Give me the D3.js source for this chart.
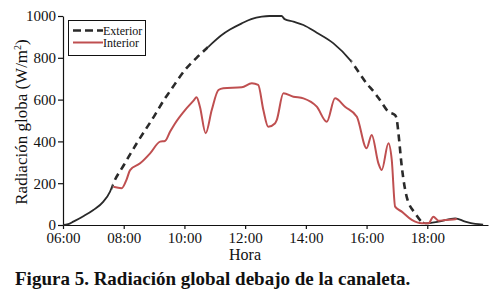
<!DOCTYPE html>
<meta charset="utf-8">
<html>
<head>
<script src="https://d3js.org/d3.v7.min.js"></script>
<style>
  body { margin: 0; background: #fff; }
  text { font-family: "Liberation Serif", "Times New Roman", serif; fill: #111; }
</style>
</head>
<body>
<script>

// hours of the day (decimal) and radiation W/m2
var extHours = [6.0, 6.17, 6.34, 6.67, 7.0, 7.33, 7.55, 7.66, 8.0, 8.43, 9.0, 9.36, 9.5, 10.02, 10.4, 10.79,
  11.23, 11.5, 11.89, 12.2, 12.55, 12.8, 13.2, 13.3, 13.59, 13.92, 14.36, 14.91, 15.46, 16.0, 16.28, 16.44,
  16.72, 16.94, 17.0, 17.05, 17.16, 17.32, 17.6, 17.93, 18.37, 18.92, 19.25, 19.58, 19.84];
var extValues = [0, 4, 16, 42, 72, 112, 160, 200, 286, 391, 520, 606, 635, 742, 800, 853,
  909, 935, 965, 985, 997, 1000, 1000, 985, 973, 957, 920, 869, 789, 678, 630, 598,
  542, 526, 500, 439, 279, 136, 56, 8, 16, 32, 16, 5, 2];

var intHours = [7.66, 7.93, 8.1, 8.21, 8.54, 8.87, 9.2, 9.36, 9.53, 9.69, 10.02, 10.3, 10.4, 10.51, 10.7, 10.9,
  11.12, 11.28, 11.89, 12.22, 12.43, 12.6, 12.76, 12.98, 13.04, 13.26, 13.59, 13.92, 14.36, 14.69, 14.96, 15.29,
  15.68, 16.0, 16.17, 16.39, 16.5, 16.72, 16.83, 16.94, 17.16, 17.49, 17.82, 18.04, 18.2, 18.37, 18.59, 18.92, 18.97];
var intValues = [183, 176, 220, 263, 295, 343, 399, 402, 447, 486, 550, 595, 611, 566, 439, 550,
  646, 654, 659, 678, 670, 550, 470, 486, 502, 630, 614, 606, 566, 494, 606, 566,
  518, 367, 431, 295, 263, 391, 311, 88, 64, 24, 8, 8, 40, 20, 24, 27, 30];

// parts of the exterior curve that are drawn dashed in the original
var dashedRanges = [[7.62, 10.78], [15.5, 17.86]];

var xTicks = [6, 8, 10, 12, 14, 16, 18];
var xTickLabels = ["06:00", "08:00", "10:00", "12:00", "14:00", "16:00", "18:00"];
var yTicks = [0, 200, 400, 600, 800, 1000];
var seriesNames = ["Exterior", "Interior"];

var width = 492, height = 304;

var svg = d3.select("body").append("svg")
  .attr("width", width)
  .attr("height", height);

var x = d3.scaleLinear().domain([6, 20]).range([63, 488]);
var y = d3.scaleLinear().domain([0, 1000]).range([225, 16]);

// axes
var xAxis = svg.append("g")
  .attr("transform", "translate(0," + y(0) + ")")
  .call(d3.axisBottom(x).tickValues(xTicks).tickSize(4).tickSizeOuter(0)
    .tickFormat(function(d, i) { return xTickLabels[i]; }));
var yAxis = svg.append("g")
  .attr("transform", "translate(" + x(6) + ",0)")
  .call(d3.axisLeft(y).tickValues(yTicks).tickSize(5).tickSizeOuter(0).tickPadding(2)
    .tickFormat(d3.format("d")));

svg.selectAll(".domain, .tick line").attr("stroke", "#111").attr("stroke-width", 1.2);
svg.selectAll(".tick text")
  .style("font-family", "'Liberation Serif', serif")
  .style("font-size", "15px")
  .attr("fill", "#111");

// axis titles
svg.append("text")
  .attr("x", 245).attr("y", 260)
  .attr("text-anchor", "middle")
  .style("font-size", "16px")
  .text("Hora");

svg.append("text")
  .attr("transform", "translate(27,122) rotate(-90)")
  .attr("text-anchor", "middle")
  .style("font-size", "17px")
  .html("Radiación globa (W/m<tspan dy='-6' font-size='10px'>2</tspan><tspan dy='6'>)</tspan>");

// clip paths for solid and dashed parts of exterior curve
var defs = svg.append("defs");
var dashClip = defs.append("clipPath").attr("id", "dashClip");
dashedRanges.forEach(function(r) {
  dashClip.append("rect").attr("x", x(r[0])).attr("y", 0)
    .attr("width", x(r[1]) - x(r[0])).attr("height", height);
});
var solidClip = defs.append("clipPath").attr("id", "solidClip");
var edges = [6].concat(d3.merge(dashedRanges)).concat([20.5]);
for (var k = 0; k < edges.length; k += 2) {
  solidClip.append("rect").attr("x", x(edges[k])).attr("y", 0)
    .attr("width", x(edges[k + 1]) - x(edges[k])).attr("height", height);
}

var line = d3.line()
  .x(function(d) { return x(d[0]); })
  .y(function(d) { return y(d[1]); })
  .curve(d3.curveMonotoneX);

var extData = extHours.map(function(h, i) { return [h, extValues[i]]; });
var intData = intHours.map(function(h, i) { return [h, intValues[i]]; });

svg.append("path")
  .datum(extData)
  .attr("d", line)
  .attr("fill", "none")
  .attr("stroke", "#2a2a2a")
  .attr("stroke-width", 1.8)
  .attr("clip-path", "url(#solidClip)");

svg.append("path")
  .datum(extData)
  .attr("d", line)
  .attr("fill", "none")
  .attr("stroke", "#2a2a2a")
  .attr("stroke-width", 2.6)
  .attr("stroke-dasharray", "7,5")
  .attr("clip-path", "url(#dashClip)");

svg.append("path")
  .datum(intData)
  .attr("d", line)
  .attr("fill", "none")
  .attr("stroke", "#bf4f50")
  .attr("stroke-width", 2);

// legend
var legend = svg.append("g");
legend.append("rect")
  .attr("x", 68.5).attr("y", 20.5)
  .attr("width", 77).attr("height", 35)
  .attr("fill", "#fff")
  .attr("stroke", "#111")
  .attr("stroke-width", 1);

var items = legend.selectAll("g.item")
  .data(seriesNames)
  .enter().append("g")
  .attr("transform", function(d, i) { return "translate(0," + (30.5 + i * 12) + ")"; });

items.append("line")
  .attr("x1", 73).attr("x2", 103)
  .attr("stroke", function(d, i) { return i == 0 ? "#2a2a2a" : "#bf4f50"; })
  .attr("stroke-width", function(d, i) { return i == 0 ? 2.6 : 2; })
  .attr("stroke-dasharray", function(d, i) { return i == 0 ? "8,4" : null; });

items.append("text")
  .attr("x", 103).attr("y", 4)
  .style("font-size", "12px")
  .text(function(d) { return d; });

// figure caption
svg.append("text")
  .attr("x", 15).attr("y", 285)
  .style("font-size", "19px")
  .style("font-weight", "bold")
  .text("Figura 5. Radiación global debajo de la canaleta.");

</script>
</body>
</html>
